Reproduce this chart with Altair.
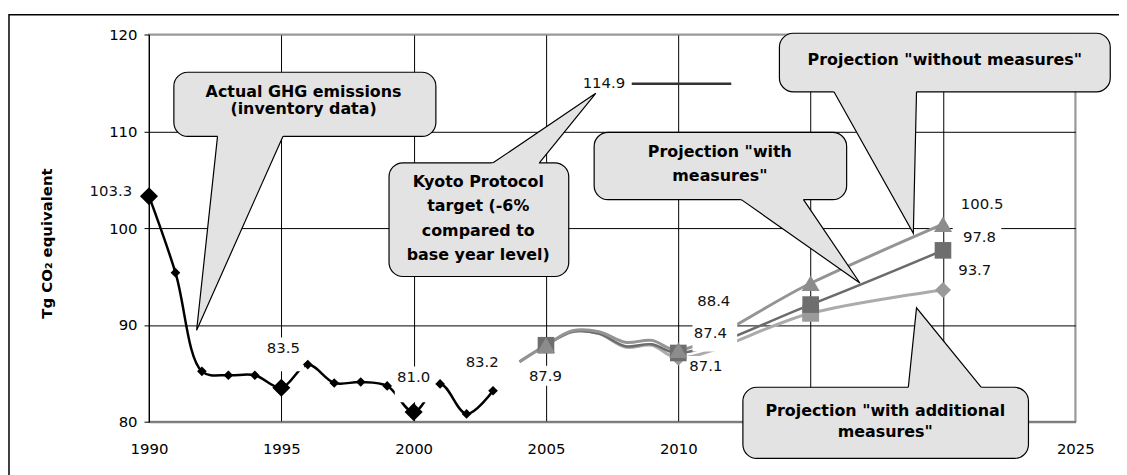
import altair as alt
import pandas as pd

# ---------------- data ----------------
actual_years = list(range(1990, 2004))
actual_values = [103.3, 95.4, 85.2, 84.8, 84.8, 83.5, 85.9, 84.0, 84.1, 83.7, 81.0, 83.9, 80.8, 83.2]
actual_big_years = [1990, 1995, 2000]

proj_years = [2004, 2005, 2006, 2007, 2008, 2009, 2010, 2015, 2020]
without_values = [86.2, 87.9, 89.4, 89.3, 88.2, 88.4, 87.4, 94.3, 100.4]
with_values = [86.2, 87.9, 89.3, 89.1, 87.8, 88.0, 87.1, 92.1, 97.7]
additional_values = [86.2, 87.9, 89.3, 89.1, 87.7, 87.9, 86.6, 91.2, 93.6]

without_marker_years = [2005, 2010, 2015, 2020]
with_marker_years = [2005, 2010, 2015, 2020]
additional_marker_years = [2010, 2015, 2020]
additional_marker_shapes = ["diamond", "square", "diamond"]

kyoto_years = [2008, 2012]
kyoto_value = 114.9

x_tick_values = list(range(1990, 2026, 5))
x_ticks_hidden_by_callout = [2015, 2020]
y_tick_values = [80, 90, 100, 110, 120]

# data labels: text, centre year, centre value, white box (px) left/right/up/down
label_texts = ["103.3", "83.5", "81.0", "83.2", "87.9", "88.4", "87.4", "87.1",
               "100.5", "97.8", "93.7", "114.9"]
label_x = [1988.56, 1995.08, 2000.0, 2002.59, 2004.98, 2011.34, 2011.21, 2011.04,
           2021.48, 2021.38, 2021.2, 2007.19]
label_y = [103.79, 87.56, 84.58, 86.12, 84.75, 92.44, 89.2, 85.77,
           102.53, 99.11, 95.62, 115.0]
box_left = [25, 22, 19, 22, 22, 22, 18, 22, 25, 27, 22, 25]
box_right = [25, 21, 25, 22, 22, 23, 27, 22, 25, 22, 22, 28]
box_up = [11, 11, 11, 11, 10, 11, 12, 10, 11, 11, 11, 10]
box_down = [11, 23, 25, 11, 10, 11, 19, 10, 11, 11, 11, 8]

# callouts (text y = centre of the first line)
callout_texts = [
    "Actual GHG emissions\n(inventory data)",
    "Kyoto Protocol\ntarget (-6%\ncompared to\nbase year level)",
    'Projection "with\nmeasures"',
    'Projection "without measures"',
    'Projection "with additional\nmeasures"',
]
callout_text_x = [1995.84, 2002.44, 2011.57, 2020.07, 2017.82]
callout_text_y = [114.08, 104.75, 107.83, 117.4, 81.1]
callout_line_height = [17, 24.5, 23.5, 20, 21]
callout_box_x0 = [1990.94, 1999.07, 2006.82, 2013.82, 2012.44]
callout_box_x1 = [2000.84, 2005.86, 2016.36, 2026.32, 2023.23]
callout_box_y0 = [109.47, 95.0, 102.94, 114.08, 76.21]
callout_box_y1 = [116.1, 106.74, 109.88, 120.13, 83.56]
callout_base_y = [109.47, 106.74, 102.94, 114.08, 83.56]
callout_base_xa = [1992.59, 2003.0, 2012.38, 2015.88, 2018.69]
callout_base_xb = [1995.06, 2004.75, 2014.73, 2019.0, 2021.44]
callout_tip_x = [1991.80, 2006.88, 2016.86, 2018.88, 2019.0]
callout_tip_y = [89.44, 113.92, 94.33, 99.46, 91.76]

# ---------------- layout ----------------
W, H = 933, 390
X_DOMAIN = [1990, 2025]
Y_DOMAIN = [80, 120]
XPX = W / (X_DOMAIN[1] - X_DOMAIN[0])
YPX = H / (Y_DOMAIN[1] - Y_DOMAIN[0])
FONT = "DejaVu Sans"
CALLOUT_FILL = "#e3e3e3"

x_scale = alt.Scale(domain=X_DOMAIN, nice=False, zero=False)
y_scale = alt.Scale(domain=Y_DOMAIN, nice=False, zero=False)

hidden_test = " || ".join(f"datum.value == {v}" for v in x_ticks_hidden_by_callout)
x_axis = alt.Axis(
    values=x_tick_values, format="d", title=None,
    labelExpr=f"({hidden_test}) ? '' : datum.label",
    labelFont=FONT, labelFontSize=15, labelColor="black", labelFlush=False,
    tickSize=0, labelPadding=20,
    grid=True, gridWidth=1,
    gridColor={"condition": {"test": "datum.value == 2025", "value": "#999999"}, "value": "black"},
    domainColor="#808080", domainWidth=2,
)
y_axis = alt.Axis(
    values=y_tick_values, title="Tg CO\u2082 equivalent",
    labelFont=FONT, labelFontSize=15, labelColor="black", labelFlush=False,
    tickSize=5, tickColor="black", labelPadding=7,
    grid=True, gridWidth=1,
    gridColor={"condition": {"test": "datum.value == 120", "value": "#999999"}, "value": "black"},
    domainColor="black", domainWidth=1,
    titleFont=FONT, titleFontSize=15, titleFontWeight="bold", titleColor="black",
    titlePadding=55, titleY=210,
)


def X(field):
    return alt.X(field, scale=x_scale, axis=x_axis)


def Y(field):
    return alt.Y(field, scale=y_scale, axis=y_axis)


layers = []

# outer frame
frame = alt.Chart(pd.DataFrame({"a": [0]})).mark_rect(
    fill="transparent", stroke="black", strokeWidth=1.5
).encode(x=alt.value(-141), x2=alt.value(1300), y=alt.value(-20), y2=alt.value(800))

# actual emissions line
actual_df = pd.DataFrame({"year": actual_years, "value": actual_values})
layers.append(
    alt.Chart(actual_df).mark_line(interpolate="catmull-rom", color="black", strokeWidth=2.5).encode(
        x=X("year:Q"), y=Y("value:Q")
    )
)


def proj_line(values, color, width):
    df = pd.DataFrame({"year": proj_years, "value": values})
    return alt.Chart(df).mark_line(interpolate="catmull-rom", color=color, strokeWidth=width).encode(
        x=X("year:Q"), y=Y("value:Q")
    )


layers.append(proj_line(additional_values, "#ababab", 3))
layers.append(proj_line(with_values, "#6b6b6b", 2.5))
layers.append(proj_line(without_values, "#949494", 3))

# Kyoto target line
kyoto_df = pd.DataFrame({"year": kyoto_years, "value": [kyoto_value] * len(kyoto_years)})
layers.append(
    alt.Chart(kyoto_df).mark_line(color="#333333", strokeWidth=2.5).encode(x=X("year:Q"), y=Y("value:Q"))
)

# white label boxes
lab_df = pd.DataFrame({
    "text": label_texts, "x": label_x, "y": label_y,
    "x0": [x - l / XPX for x, l in zip(label_x, box_left)],
    "x1": [x + r / XPX for x, r in zip(label_x, box_right)],
    "y0": [y + u / YPX for y, u in zip(label_y, box_up)],
    "y1": [y - d / YPX for y, d in zip(label_y, box_down)],
})
layers.append(
    alt.Chart(lab_df).mark_rect(fill="white").encode(x=X("x0:Q"), x2="x1:Q", y=Y("y0:Q"), y2="y1:Q")
)

# markers
rows = []
for yr, v in zip(actual_years, actual_values):
    big = yr in actual_big_years
    rows.append(dict(year=yr, value=v, shape="diamond", size=330 if big else 95, color="black", z=0))
for yr, sh in zip(additional_marker_years, additional_marker_shapes):
    v = additional_values[proj_years.index(yr)]
    rows.append(dict(year=yr, value=v, shape=sh, size=290 if sh == "square" else 260, color="#9a9a9a", z=1))
for yr in with_marker_years:
    v = with_values[proj_years.index(yr)]
    rows.append(dict(year=yr, value=v, shape="square", size=280, color="#6e6e6e", z=2))
for yr in without_marker_years:
    v = without_values[proj_years.index(yr)]
    rows.append(dict(year=yr, value=v, shape="triangle-up", size=330, color="#8c8c8c", z=3))
mk_df = pd.DataFrame(rows)
layers.append(
    alt.Chart(mk_df).mark_point(filled=True, opacity=1).encode(
        x=X("year:Q"), y=Y("value:Q"),
        shape=alt.Shape("shape:N", scale=None),
        size=alt.Size("size:Q", scale=None),
        color=alt.Color("color:N", scale=None),
        order=alt.Order("z:Q"),
    )
)

# label texts
layers.append(
    alt.Chart(lab_df).mark_text(font=FONT, fontSize=15, color="#111111", align="center", baseline="middle").encode(
        x=X("x:Q"), y=Y("y:Q"), text="text:N"
    )
)

# callouts
for i in range(len(callout_texts)):
    box_df = pd.DataFrame({"x0": [callout_box_x0[i]], "x1": [callout_box_x1[i]],
                           "y0": [callout_box_y0[i]], "y1": [callout_box_y1[i]]})
    layers.append(
        alt.Chart(box_df).mark_rect(fill=CALLOUT_FILL, stroke="black", strokeWidth=1.2, cornerRadius=14).encode(
            x=X("x0:Q"), x2="x1:Q", y=Y("y0:Q"), y2="y1:Q"
        )
    )
    base = callout_base_y[i]
    tx, ty = callout_tip_x[i], callout_tip_y[i]
    xa, xb = callout_base_xa[i], callout_base_xb[i]
    e = 0.3 if ty < base else -0.3
    inner = base + e
    s = (inner - base) / (ty - base)
    area_df = pd.DataFrame({
        "y": [inner, ty],
        "xl": [xa + s * (tx - xa), tx],
        "xr": [xb + s * (tx - xb), tx],
    })
    layers.append(
        alt.Chart(area_df).mark_area(orient="horizontal", fill=CALLOUT_FILL, opacity=1, strokeWidth=0).encode(
            y=Y("y:Q"), x=X("xl:Q"), x2="xr:Q"
        )
    )
    side_df = pd.DataFrame({"i": [0, 1, 2], "x": [xa, tx, xb], "y": [base, ty, base]})
    layers.append(
        alt.Chart(side_df).mark_line(color="black", strokeWidth=1.2).encode(
            x=X("x:Q"), y=Y("y:Q"), order="i:Q"
        )
    )
    txt_df = pd.DataFrame({"x": [callout_text_x[i]], "y": [callout_text_y[i]], "t": [callout_texts[i]]})
    layers.append(
        alt.Chart(txt_df).mark_text(
            font=FONT, fontSize=16, fontWeight="bold", color="black", align="center",
            baseline="middle", lineBreak="\n", lineHeight=callout_line_height[i]
        ).encode(x=X("x:Q"), y=Y("y:Q"), text="t:N")
    )

chart = alt.layer(frame, *layers).properties(
    width=W, height=H,
    autosize=alt.AutoSizeParams(type="none"),
    padding={"left": 142, "top": 25, "right": 44, "bottom": 52},
    background="white",
).configure_view(stroke="#999999", strokeWidth=2)

chart.save("out.html", embed_options={"renderer": "svg", "actions": False})
